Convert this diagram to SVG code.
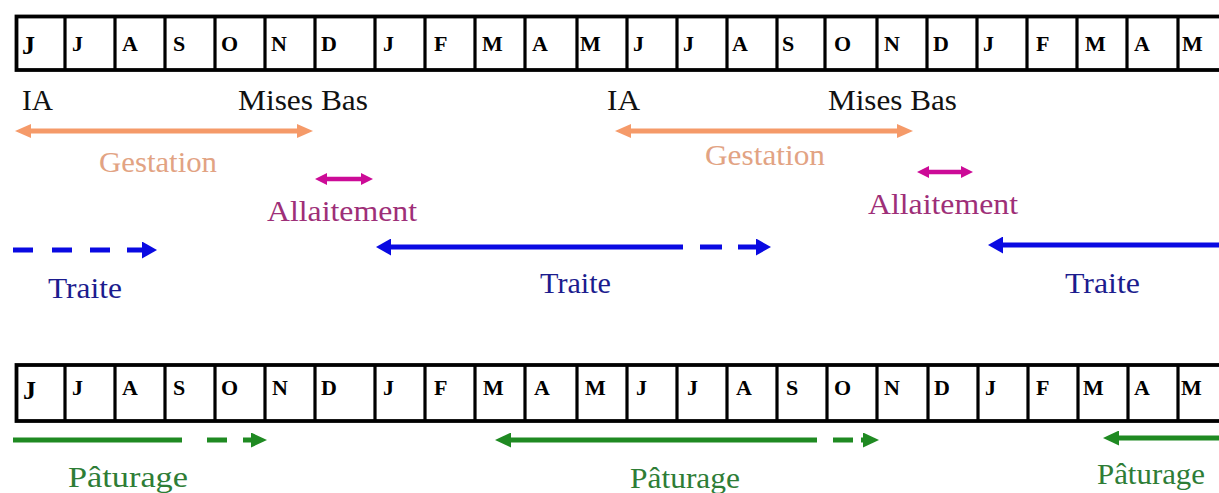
<svg xmlns="http://www.w3.org/2000/svg" width="1219" height="493" viewBox="0 0 1219 493">
<defs>
<style>
.bar{fill:#fff;stroke:#000;stroke-width:3.8}
.sep{stroke:#000;stroke-width:3.2}
.m{font-family:'Liberation Serif','Times New Roman',Times,serif;font-weight:bold;font-size:22px;fill:#000}
.m1{font-size:26px}
.lb{font-family:'Liberation Serif','Times New Roman',Times,serif;font-size:29px}
.blk{fill:#111}
.or{fill:#E2A383}
.mg{fill:#9E2F78}
.bl{fill:#1C1C8E}
.gr{fill:#2E7D36}
.a-or{fill:none;stroke:#F59A69;stroke-width:5}
.a-mg{fill:none;stroke:#CC0B97;stroke-width:4.5}
.a-bl{fill:none;stroke:#0A0AE2;stroke-width:5}
.a-gr{fill:none;stroke:#1F8A22;stroke-width:5}
</style>
<marker id="h-or" markerUnits="userSpaceOnUse" markerWidth="16" markerHeight="14" refX="1" refY="7" orient="auto-start-reverse"><path d="M0,0 L16,7 L0,14 Z" fill="#F59A69"/></marker>
<marker id="h-mg" markerUnits="userSpaceOnUse" markerWidth="12" markerHeight="12" refX="1" refY="6" orient="auto-start-reverse"><path d="M0,0 L12,6 L0,12 Z" fill="#CC0B97"/></marker>
<marker id="h-bl" markerUnits="userSpaceOnUse" markerWidth="15" markerHeight="17" refX="1" refY="8.5" orient="auto-start-reverse"><path d="M0,0 L15,8.5 L0,17 Z" fill="#0A0AE2"/></marker>
<marker id="h-gr" markerUnits="userSpaceOnUse" markerWidth="16" markerHeight="15" refX="1" refY="7.5" orient="auto-start-reverse"><path d="M0,0 L16,7.5 L0,15 Z" fill="#1F8A22"/></marker>
</defs>
<rect width="1219" height="493" fill="#fff"/>

<g id="calendar-top">
<rect class="bar" x="16.5" y="16.5" width="1230" height="53.5"/>
<path class="sep" d="M65,16.5V70 M115,16.5V70 M165,16.5V70 M215,16.5V70 M265,16.5V70 M315,16.5V70 M375,16.5V70 M425,16.5V70 M475,16.5V70 M525,16.5V70 M577,16.5V70 M627,16.5V70 M677,16.5V70 M727,16.5V70 M777,16.5V70 M825,16.5V70 M877,16.5V70 M927,16.5V70 M977,16.5V70 M1027,16.5V70 M1077,16.5V70 M1127,16.5V70 M1178,16.5V70"/>
<text class="m m1" x="22" y="54">J</text>
<text class="m" x="72" y="51">J</text>
<text class="m" x="122" y="51">A</text>
<text class="m" x="173" y="51">S</text>
<text class="m" x="221" y="51">O</text>
<text class="m" x="271" y="51">N</text>
<text class="m" x="321" y="51">D</text>
<text class="m" x="383" y="51">J</text>
<text class="m" x="434" y="51">F</text>
<text class="m" x="482" y="51">M</text>
<text class="m" x="532" y="51">A</text>
<text class="m" x="580" y="51">M</text>
<text class="m" x="633" y="51">J</text>
<text class="m" x="683" y="51">J</text>
<text class="m" x="732" y="51">A</text>
<text class="m" x="782" y="51">S</text>
<text class="m" x="834" y="51">O</text>
<text class="m" x="884" y="51">N</text>
<text class="m" x="933" y="51">D</text>
<text class="m" x="983" y="51">J</text>
<text class="m" x="1036" y="51">F</text>
<text class="m" x="1085" y="51">M</text>
<text class="m" x="1134" y="51">A</text>
<text class="m" x="1182" y="51">M</text>
</g>

<g id="calendar-bottom">
<rect class="bar" x="16.5" y="365" width="1230" height="56"/>
<path class="sep" d="M65,365V421 M115,365V421 M165,365V421 M215,365V421 M265,365V421 M315,365V421 M375,365V421 M425,365V421 M475,365V421 M525,365V421 M577,365V421 M627,365V421 M677,365V421 M727,365V421 M777,365V421 M827,365V421 M877,365V421 M928,365V421 M978,365V421 M1028,365V421 M1078,365V421 M1128,365V421 M1178,365V421"/>
<text class="m m1" x="23" y="399">J</text>
<text class="m" x="72" y="395">J</text>
<text class="m" x="122" y="395">A</text>
<text class="m" x="173" y="395">S</text>
<text class="m" x="221" y="395">O</text>
<text class="m" x="272" y="395">N</text>
<text class="m" x="321" y="395">D</text>
<text class="m" x="383" y="395">J</text>
<text class="m" x="434" y="395">F</text>
<text class="m" x="483" y="395">M</text>
<text class="m" x="534" y="395">A</text>
<text class="m" x="585" y="395">M</text>
<text class="m" x="636" y="395">J</text>
<text class="m" x="687" y="395">J</text>
<text class="m" x="736" y="395">A</text>
<text class="m" x="786" y="395">S</text>
<text class="m" x="834" y="395">O</text>
<text class="m" x="884" y="395">N</text>
<text class="m" x="934" y="395">D</text>
<text class="m" x="985" y="395">J</text>
<text class="m" x="1036" y="395">F</text>
<text class="m" x="1083" y="395">M</text>
<text class="m" x="1134" y="395">A</text>
<text class="m" x="1181" y="395">M</text>
</g>

<g id="connectors">
<path class="a-or" d="M30,131 H298" marker-start="url(#h-or)" marker-end="url(#h-or)"/>
<path class="a-or" d="M630,131 H898" marker-start="url(#h-or)" marker-end="url(#h-or)"/>
<path class="a-mg" d="M326,179 H362" marker-start="url(#h-mg)" marker-end="url(#h-mg)"/>
<path class="a-mg" d="M928,172 H962" marker-start="url(#h-mg)" marker-end="url(#h-mg)"/>
<path class="a-bl" d="M13,250 H33 M52,250 H72 M90,250 H110 M127,250 H143" marker-end="url(#h-bl)"/>
<path class="a-bl" d="M390,247 H683 M700,247 H722 M738,247 H757" marker-start="url(#h-bl)" marker-end="url(#h-bl)"/>
<path class="a-bl" d="M1002,245 H1230" marker-start="url(#h-bl)"/>
<path class="a-gr" d="M13,440 H182 M207,440 H227 M243,440 H252" marker-end="url(#h-gr)"/>
<path class="a-gr" d="M510,440 H817 M833,440 H853" marker-start="url(#h-gr)"/>
<path class="a-gr" d="M861,440 H864" marker-end="url(#h-gr)"/>
<path class="a-gr" d="M1118,438 H1230" marker-start="url(#h-gr)"/>
</g>

<g id="ia-1"><text class="lb blk" x="22" y="110" textLength="31" lengthAdjust="spacingAndGlyphs">IA</text></g>
<g id="mises-bas-1"><text class="lb blk" x="238" y="110" textLength="130" lengthAdjust="spacingAndGlyphs">Mises Bas</text></g>
<g id="ia-2"><text class="lb blk" x="607" y="110" textLength="33" lengthAdjust="spacingAndGlyphs">IA</text></g>
<g id="mises-bas-2"><text class="lb blk" x="828" y="110" textLength="129" lengthAdjust="spacingAndGlyphs">Mises Bas</text></g>
<g id="gestation-1"><text class="lb or" x="99" y="172" textLength="118" lengthAdjust="spacingAndGlyphs">Gestation</text></g>
<g id="gestation-2"><text class="lb or" x="705" y="165" textLength="120" lengthAdjust="spacingAndGlyphs">Gestation</text></g>
<g id="allaitement-1"><text class="lb mg" x="267" y="221" textLength="150" lengthAdjust="spacingAndGlyphs">Allaitement</text></g>
<g id="allaitement-2"><text class="lb mg" x="868" y="214" textLength="150" lengthAdjust="spacingAndGlyphs">Allaitement</text></g>
<g id="traite-1"><text class="lb bl" x="48" y="298" textLength="74" lengthAdjust="spacingAndGlyphs">Traite</text></g>
<g id="traite-2"><text class="lb bl" x="540" y="293" textLength="71" lengthAdjust="spacingAndGlyphs">Traite</text></g>
<g id="traite-3"><text class="lb bl" x="1065" y="293" textLength="75" lengthAdjust="spacingAndGlyphs">Traite</text></g>
<g id="paturage-1"><text class="lb gr" x="68" y="487" textLength="120" lengthAdjust="spacingAndGlyphs">Pâturage</text></g>
<g id="paturage-2"><text class="lb gr" x="630" y="488" textLength="110" lengthAdjust="spacingAndGlyphs">Pâturage</text></g>
<g id="paturage-3"><text class="lb gr" x="1097" y="484" textLength="108" lengthAdjust="spacingAndGlyphs">Pâturage</text></g>
</svg>
